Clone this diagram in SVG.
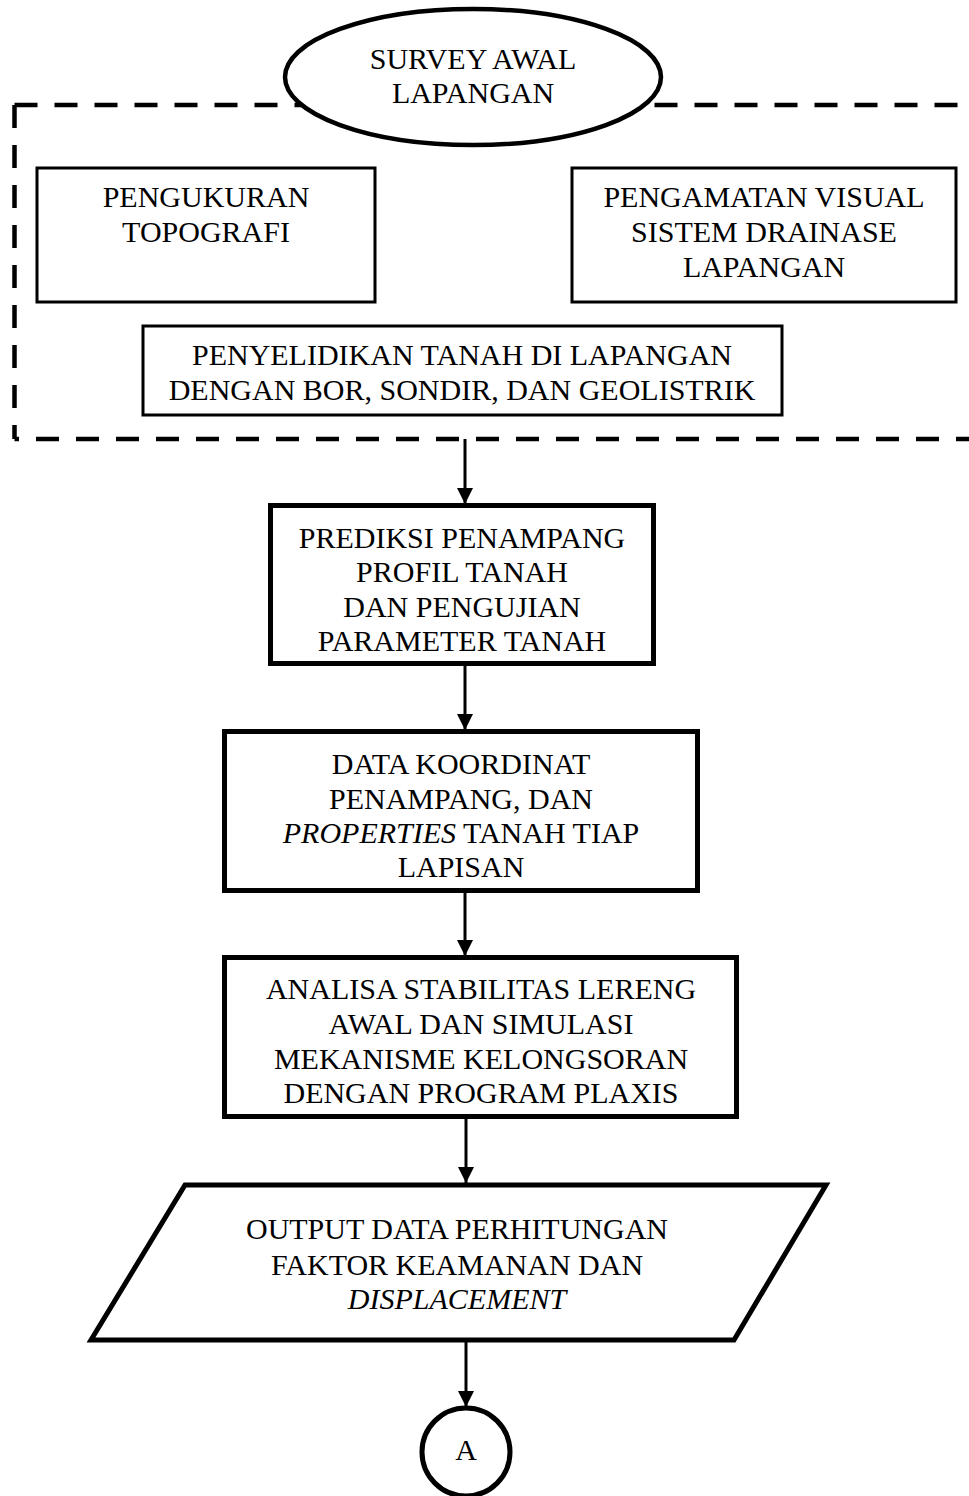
<svg xmlns="http://www.w3.org/2000/svg" width="969" height="1496" viewBox="0 0 969 1496">
<style>
text{font-family:"Liberation Serif","Times New Roman",serif;font-size:30px;fill:#000;text-anchor:middle}
.thin{fill:#fff;stroke:#000;stroke-width:3}
.thick{fill:#fff;stroke:#000;stroke-width:5}
.dash{fill:none;stroke:#000;stroke-width:4.5;stroke-dasharray:23 17}
.conn{stroke:#000;stroke-width:3;fill:none}
.it{font-style:italic}
</style>
<defs>
<marker id="ah" markerUnits="userSpaceOnUse" markerWidth="16" markerHeight="16" viewBox="0 0 16 16" refX="16" refY="8" orient="auto">
<path d="M0,0 L16,8 L0,16 Z" fill="#000"/>
</marker>
</defs>
<g id="group-survey">
<path class="dash" d="M14.5,105 L14.5,439"/>
<path class="dash" d="M14.5,105 L990,105"/>
<path class="dash" d="M14.5,439 L990,439" style="stroke-dashoffset:18.5"/>
</g>
<g id="start">
<ellipse class="thick" cx="473" cy="77" rx="188" ry="68" style="stroke-width:4.5"/>
<text x="473" y="69">SURVEY AWAL</text>
<text x="473" y="103">LAPANGAN</text>
</g>
<g id="topografi">
<rect class="thin" x="37" y="168" width="338" height="134"/>
<text x="206" y="207">PENGUKURAN</text>
<text x="206" y="242">TOPOGRAFI</text>
</g>
<g id="drainase">
<rect class="thin" x="572" y="168" width="384" height="134"/>
<text x="764" y="207">PENGAMATAN VISUAL</text>
<text x="764" y="242">SISTEM DRAINASE</text>
<text x="764" y="277">LAPANGAN</text>
</g>
<g id="penyelidikan">
<rect class="thin" x="143" y="326" width="639" height="89"/>
<text x="462" y="365">PENYELIDIKAN TANAH DI LAPANGAN</text>
<text x="462" y="400">DENGAN BOR, SONDIR, DAN GEOLISTRIK</text>
</g>
<g id="prediksi">
<rect class="thick" x="270.5" y="505.5" width="383" height="158"/>
<text x="462" y="548">PREDIKSI PENAMPANG</text>
<text x="462" y="582">PROFIL TANAH</text>
<text x="462" y="617">DAN PENGUJIAN</text>
<text x="462" y="651">PARAMETER TANAH</text>
</g>
<g id="data">
<rect class="thick" x="224.5" y="731.5" width="473" height="159"/>
<text x="461" y="774">DATA KOORDINAT</text>
<text x="461" y="809">PENAMPANG, DAN</text>
<text x="461" y="843"><tspan class="it">PROPERTIES</tspan> TANAH TIAP</text>
<text x="461" y="877">LAPISAN</text>
</g>
<g id="analisa">
<rect class="thick" x="224.5" y="957.5" width="512" height="159"/>
<text x="481" y="999">ANALISA STABILITAS LERENG</text>
<text x="481" y="1034">AWAL DAN SIMULASI</text>
<text x="481" y="1069">MEKANISME KELONGSORAN</text>
<text x="481" y="1103">DENGAN PROGRAM PLAXIS</text>
</g>
<g id="output">
<polygon class="thick" points="185,1185 826,1185 734,1340 91,1340"/>
<text x="457" y="1239">OUTPUT DATA PERHITUNGAN</text>
<text x="457" y="1275">FAKTOR KEAMANAN DAN</text>
<text x="457" y="1309" class="it">DISPLACEMENT</text>
</g>
<g id="connector-a">
<circle class="thick" cx="466" cy="1452" r="44"/>
<text x="466" y="1460">A</text>
</g>
<g id="connectors">
<line class="conn" x1="465" y1="439" x2="465" y2="504" marker-end="url(#ah)"/>
<line class="conn" x1="465" y1="664" x2="465" y2="730" marker-end="url(#ah)"/>
<line class="conn" x1="465" y1="891" x2="465" y2="956" marker-end="url(#ah)"/>
<line class="conn" x1="466" y1="1117" x2="466" y2="1183" marker-end="url(#ah)"/>
<line class="conn" x1="466" y1="1342" x2="466" y2="1407" marker-end="url(#ah)"/>
</g>
</svg>
